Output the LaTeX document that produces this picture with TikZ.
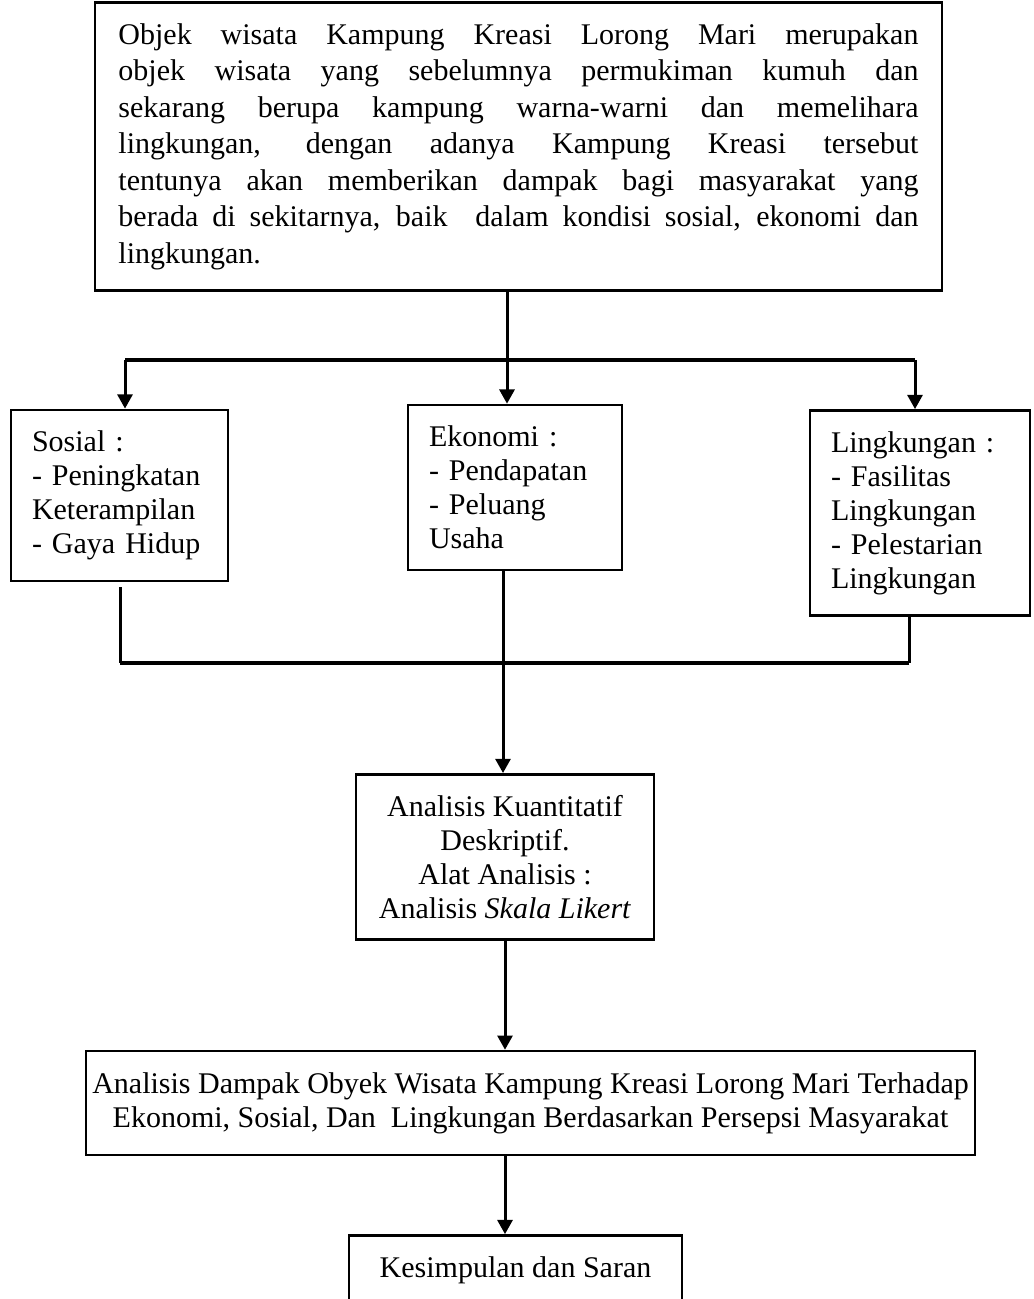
\documentclass[tikz,border=0pt]{standalone}
\usepackage{fontspec}
\setmainfont{Liberation Serif}
\usetikzlibrary{arrows.meta,calc}

\tikzset{
  kotak/.style={draw,line width=1pt,rectangle,inner sep=8.4pt,font=\fontsize{12}{13.6}\selectfont},
  link/.style={line width=1.2pt},
  bar/.style={line width=1.8pt},
  panah/.style={link,-{Triangle[length=5.7pt,width=6pt]}}
}

\begin{document}
\begin{tikzpicture}[x=0.4pt,y=-0.4pt]
  \useasboundingbox (0,0) rectangle (1033,1299);
  \node[kotak,minimum width=338.8pt,minimum height=113.2pt,text width=320pt,align=justify,
        font=\fontsize{12}{14.6}\selectfont] (latar) at (518.5,146.5)
       {Objek wisata Kampung Kreasi Lorong Mari merupakan\linebreak
        objek wisata yang sebelumnya permukiman kumuh dan\linebreak
        sekarang berupa kampung warna-warni dan memelihara\linebreak
        lingkungan, dengan adanya Kampung Kreasi tersebut\linebreak
        tentunya akan memberikan dampak bagi masyarakat yang\linebreak
        berada di sekitarnya, baik\ \ dalam kondisi sosial, ekonomi dan\linebreak
        lingkungan.};
  \node[kotak,minimum width=86.8pt,minimum height=66pt,text width=70pt,align=left] (sosial) at (119.5,495.5)
       {Sosial :\\- Peningkatan\\Keterampilan\\- Gaya Hidup};
  \node[kotak,minimum width=85.6pt,minimum height=65.2pt,text width=68.8pt,align=left] (ekonomi) at (515,487.5)
       {Ekonomi :\\- Pendapatan\\- Peluang\\Usaha};
  \node[kotak,minimum width=88pt,minimum height=77.6pt,text width=71.2pt,align=left] (lingkungan) at (920,513)
       {Lingkungan :\\- Fasilitas\\Lingkungan\\- Pelestarian\\Lingkungan};
  \node[kotak,minimum width=119.2pt,minimum height=64.8pt,align=center] (analisis) at (505,857)
       {Analisis Kuantitatif\\Deskriptif.\\Alat Analisis :\\Analisis \textit{Skala Likert}};
  \node[kotak,inner sep=2pt,minimum width=355.6pt,minimum height=41.6pt,align=center] (dampak) at (530.5,1103)
       {Analisis Dampak Obyek Wisata Kampung Kreasi Lorong Mari Terhadap\\
        Ekonomi, Sosial, Dan\ \ Lingkungan Berdasarkan Persepsi Masyarakat};
  \node[kotak,minimum width=133.2pt,minimum height=27.2pt,align=center] (simpulan) at (515.5,1270)
       {Kesimpulan dan Saran};

  \coordinate (pecah) at (507,360);
  \coordinate (pecahkiri) at (125,360);
  \coordinate (pecahkanan) at (915,360);
  \coordinate (gabung) at (503,663);
  \coordinate (gabungkiri) at (120,663);
  \coordinate (gabungkanan) at (909,663);

  \draw[link] (latar.south -| pecah) -- (pecah);
  \draw[bar]  (pecahkiri) -- (pecahkanan);
  \draw[panah] (pecahkiri) -- (sosial.north -| pecahkiri);
  \draw[panah] (pecah) -- (ekonomi.north -| pecah);
  \draw[panah] (pecahkanan) -- (lingkungan.north -| pecahkanan);

  \draw[link] ([yshift=-2pt]sosial.south -| gabungkiri) -- (gabungkiri);
  \draw[link] (ekonomi.south -| gabung) -- (gabung);
  \draw[link] (lingkungan.south -| gabungkanan) -- (gabungkanan);
  \draw[bar]  (gabungkiri) -- (gabungkanan);
  \draw[panah] (gabung) -- (analisis.north -| gabung);
  \draw[panah] (analisis.south) -- (dampak.north -| analisis.south);
  \draw[panah] (dampak.south -| analisis.south) -- (simpulan.north -| analisis.south);
\end{tikzpicture}
\end{document}
